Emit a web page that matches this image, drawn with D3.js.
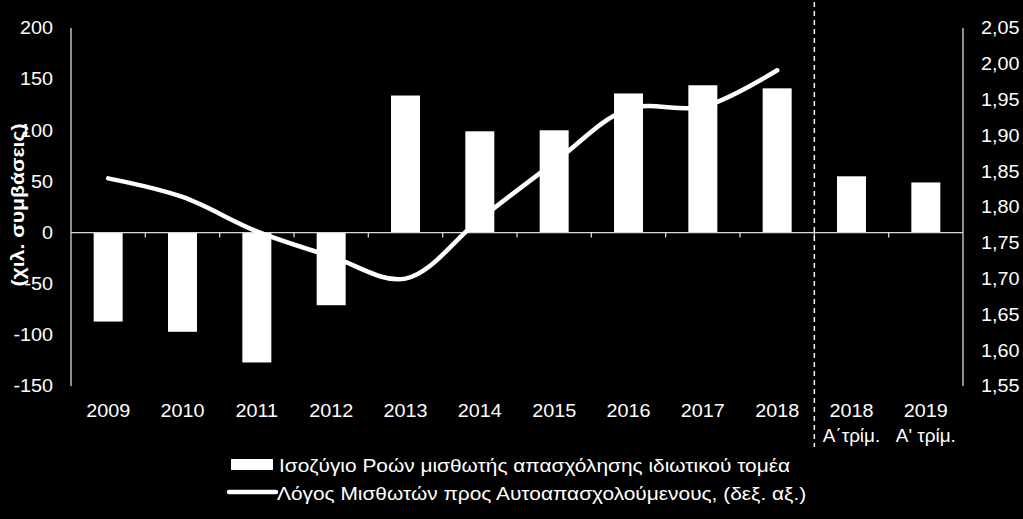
<!DOCTYPE html>
<html>
<head>
<meta charset="utf-8">
<script src="https://cdn.jsdelivr.net/npm/d3@7"></script>
<style>
  html, body { margin: 0; padding: 0; background: #000; }
  svg { display: block; }
  text { font-family: "Liberation Sans", Arial, sans-serif; fill: #fff; }
</style>
</head>
<body>
<div id="graph"></div>
<script>
// --------------------------------------
//  Data
// --------------------------------------

const categories = ["2009", "2010", "2011", "2012", "2013", "2014", "2015", "2016", "2017", "2018", "2018Q1", "2019Q1"];
const yearLabels = ["2009", "2010", "2011", "2012", "2013", "2014", "2015", "2016", "2017", "2018", "2018", "2019"];
const quarterLabels = ["", "", "", "", "", "", "", "", "", "", "Α΄τρίμ.", "Α' τρίμ."];

// private sector hiring flows balance (thousand contracts)
const flows = [-87, -97, -127, -71, 134, 99, 100, 136, 144, 141, 55, 49];
// employees / self-employed ratio, right axis (annual only)
const ratio = [1.840, 1.814, 1.766, 1.731, 1.700, 1.783, 1.862, 1.937, 1.940, 1.991];

const leftTicks = [200, 150, 100, 50, 0, -50, -100, -150];
const rightTicks = [2.05, 2.00, 1.95, 1.90, 1.85, 1.80, 1.75, 1.70, 1.65, 1.60, 1.55];

const legendLabels = [
  "Ισοζύγιο Ροών μισθωτής απασχόλησης ιδιωτικού τομέα",
  "Λόγος Μισθωτών προς Αυτοαπασχολούμενους, (δεξ. αξ.)"
];

// --------------------------------------
//  Canvas
// --------------------------------------

const W = 1023, H = 519;
const plot = { left: 71, right: 963, top: 28, bottom: 386 };

let svg = d3.select("#graph")
  .append("svg")
  .attr("width", W)
  .attr("height", H);

svg.append("rect").attr("width", W).attr("height", H).attr("fill", "#000");

// the original text is a bit wider than it is tall, so stretch it sideways
function label(g, data, xf, yf, anchor, size, sx, txt) {
  return g.selectAll("text")
    .data(data)
    .join("text")
    .attr("transform", (d, i) => `translate(${xf(d, i)},${yf(d, i)}) scale(${sx},1)`)
    .attr("dy", "0.35em")
    .attr("text-anchor", anchor)
    .attr("font-size", size)
    .text(txt);
}

// --------------------------------------
//  Scales
// --------------------------------------

let x = d3.scaleBand()
  .domain(categories)
  .range([plot.left, plot.right])
  .paddingInner(0.61)
  .paddingOuter(0.305);

let yL = d3.scaleLinear().domain([-150, 200]).range([plot.bottom, plot.top]);
let yR = d3.scaleLinear().domain([1.55, 2.05]).range([plot.bottom, plot.top]);

const fmtR = d3.format(".2f");
const step = x.step();
const cx = (d, i) => x(categories[i]) + x.bandwidth() / 2;

// --------------------------------------
//  Bars
// --------------------------------------

svg.append("g")
  .selectAll("rect")
  .data(flows)
  .join("rect")
  .attr("x", (d, i) => x(categories[i]))
  .attr("width", x.bandwidth())
  .attr("y", d => Math.min(yL(d), yL(0)))
  .attr("height", d => Math.abs(yL(d) - yL(0)))
  .attr("fill", "#fff");

// --------------------------------------
//  Axes
// --------------------------------------

// zero line with category ticks
svg.append("line")
  .attr("x1", plot.left).attr("x2", plot.right)
  .attr("y1", yL(0)).attr("y2", yL(0))
  .attr("stroke", "#d9d9d9").attr("stroke-width", 1.3);

svg.append("g")
  .selectAll("line")
  .data(d3.range(1, categories.length))
  .join("line")
  .attr("x1", i => plot.left + i * step)
  .attr("x2", i => plot.left + i * step)
  .attr("y1", yL(0))
  .attr("y2", yL(0) + 5)
  .attr("stroke", "#d9d9d9").attr("stroke-width", 1.3);

// left axis
svg.append("line")
  .attr("x1", plot.left).attr("x2", plot.left)
  .attr("y1", plot.top).attr("y2", plot.bottom)
  .attr("stroke", "#d9d9d9").attr("stroke-width", 1.3);

label(svg.append("g"), leftTicks, () => 53, d => yL(d), "end", 18, 1.1, d => d);

// right axis
svg.append("line")
  .attr("x1", plot.right).attr("x2", plot.right)
  .attr("y1", plot.top).attr("y2", plot.bottom)
  .attr("stroke", "#d9d9d9").attr("stroke-width", 1.3);

label(svg.append("g"), rightTicks, () => 981, d => yR(d), "start", 18, 1.1,
  d => fmtR(d).replace(".", ","));

// y title
svg.append("text")
  .attr("transform", "translate(18,205) rotate(-90) scale(1.18,1)")
  .attr("dy", "0.35em")
  .attr("text-anchor", "middle")
  .attr("font-size", 18)
  .attr("font-weight", "bold")
  .text("(χιλ. συμβάσεις)");

// x labels
label(svg.append("g"), yearLabels, cx, () => 411, "middle", 18, 1.1, d => d);
label(svg.append("g"), quarterLabels, cx, () => 436, "middle", 18, 1.05, d => d);

// dashed separator between annual and quarterly data
const sepX = plot.left + 10 * step;
svg.append("line")
  .attr("x1", sepX).attr("x2", sepX)
  .attr("y1", 2).attr("y2", 447)
  .attr("stroke", "#fff")
  .attr("stroke-width", 1.5)
  .attr("stroke-dasharray", "5,4");

// --------------------------------------
//  Line (right axis)
// --------------------------------------

const line = d3.line()
  .x(cx)
  .y(d => yR(d))
  .curve(d3.curveCatmullRom.alpha(0.5));

svg.append("path")
  .datum(ratio)
  .attr("d", line)
  .attr("fill", "none")
  .attr("stroke", "#fff")
  .attr("stroke-width", 4.5)
  .attr("stroke-linecap", "round");

// --------------------------------------
//  Legend
// --------------------------------------

svg.append("rect")
  .attr("x", 231).attr("y", 459)
  .attr("width", 42).attr("height", 11)
  .attr("fill", "#fff");

svg.append("line")
  .attr("x1", 229).attr("x2", 276)
  .attr("y1", 492).attr("y2", 492)
  .attr("stroke", "#fff")
  .attr("stroke-width", 4.5)
  .attr("stroke-linecap", "round");

label(svg.append("g"), legendLabels, (d, i) => i === 0 ? 279 : 277, (d, i) => 466 + i * 28,
  "start", 18, 1.16, d => d);
</script>
</body>
</html>
